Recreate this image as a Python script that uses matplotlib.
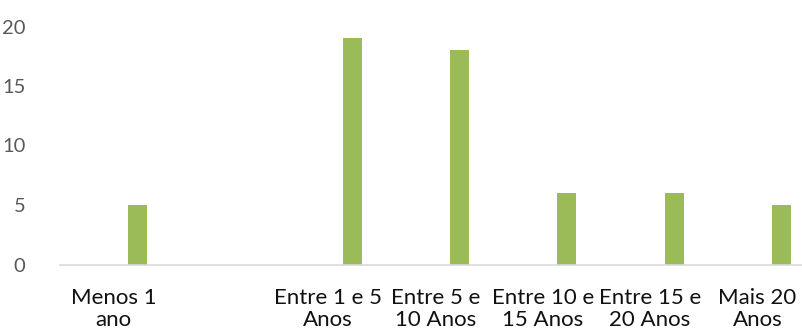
import numpy as np
import matplotlib.pyplot as plt

# tempo de serviço
categorias = ['Menos 1\nano', '', 'Entre 1 e 5\nAnos', 'Entre 5 e\n10 Anos',
              'Entre 10 e\n15 Anos', 'Entre 15 e\n20 Anos', 'Mais 20\nAnos']
valores = [5, 0, 19, 18, 6, 6, 5]

plt.rcParams['font.family'] = ['Lato', 'DejaVu Sans']

fig = plt.figure(figsize=(8.02, 3.33), dpi=100)
ax = fig.add_axes([60 / 802, 68.5 / 333, 751 / 802, 238 / 333])

x = np.arange(len(categorias))
ax.bar(x + 0.224, valores, width=0.177, color='#9BBB59')

ax.set_xlim(-0.5, 6.5)
ax.set_ylim(0, 20)
ax.set_yticks([0, 5, 10, 15, 20])
ax.set_xticks(x)
ax.set_xticklabels(categorias, fontsize=16, color='#111111', linespacing=1.12)
ax.tick_params(axis='y', labelsize=14.5, labelcolor='#595959', length=0, pad=25)
ax.tick_params(axis='x', length=0, pad=17)

for s in ['top', 'right', 'left']:
    ax.spines[s].set_visible(False)
ax.spines['bottom'].set_color('#D9D9D9')
ax.spines['bottom'].set_linewidth(1.2)

fig.savefig('out.png', dpi=100)
